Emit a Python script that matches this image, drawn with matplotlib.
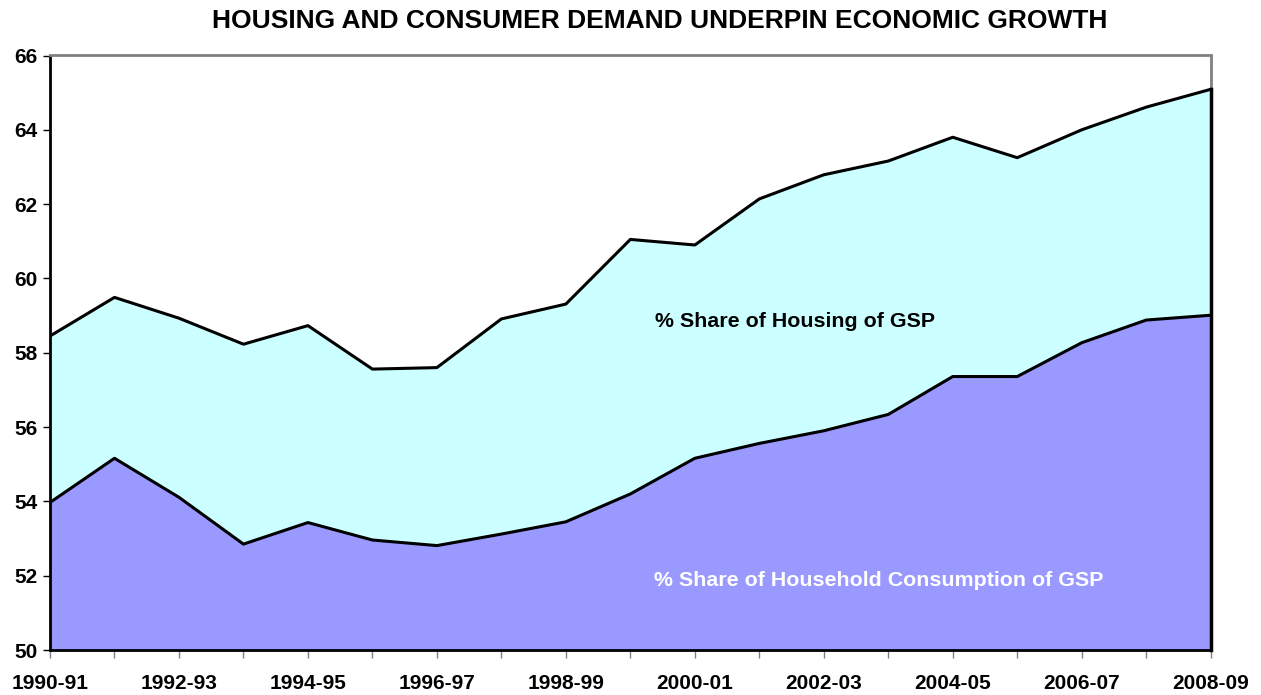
import matplotlib
matplotlib.use("Agg")
import matplotlib.pyplot as plt

years = ["1990-91", "1991-92", "1992-93", "1993-94", "1994-95", "1995-96",
         "1996-97", "1997-98", "1998-99", "1999-00", "2000-01", "2001-02",
         "2002-03", "2003-04", "2004-05", "2005-06", "2006-07", "2007-08",
         "2008-09"]
housing_share = [58.45, 59.49, 58.93, 58.23, 58.73, 57.56, 57.60, 58.91, 59.31,
                 61.05, 60.90, 62.14, 62.79, 63.16, 63.80, 63.25, 64.00, 64.61,
                 65.09]
consumption_share = [53.97, 55.16, 54.11, 52.85, 53.43, 52.96, 52.81, 53.12,
                     53.45, 54.20, 55.16, 55.56, 55.90, 56.34, 57.36, 57.36,
                     58.27, 58.88, 59.01]
y_ticks = [50, 52, 54, 56, 58, 60, 62, 64, 66]

plt.rcParams['font.family'] = ['Liberation Sans', 'DejaVu Sans']
plt.rcParams['font.weight'] = 'bold'

W, H = 1261, 695
fig = plt.figure(figsize=(W / 100, H / 100), dpi=100)
ax = fig.add_axes([50 / W, (H - 650) / H, 1160.7 / W, (650 - 55.5) / H])

x = list(range(len(years)))
ax.fill_between(x, 50, housing_share, color="#CCFFFF", zorder=1)
ax.fill_between(x, 50, consumption_share, color="#9999FF", zorder=2)
ax.plot(x, housing_share, color="black", lw=2.2, zorder=3)
ax.plot(x, consumption_share, color="black", lw=2.2, zorder=3)

ax.set_xlim(0, len(years) - 1)
ax.set_ylim(50, 66)
ax.set_yticks(y_ticks)
ax.set_yticklabels([str(v) for v in y_ticks], fontsize=15, fontweight='bold')
ax.set_xticks(x)
ax.set_xticklabels([y if i % 2 == 0 else "" for i, y in enumerate(years)],
                   fontsize=15, fontweight='bold')
ax.tick_params(axis='x', direction='out', length=6, width=1, color='#808080', pad=11)
ax.tick_params(axis='y', direction='out', length=5, width=1, color='black', pad=4)

for s in ['top', 'right']:
    ax.spines[s].set_color('#808080')
    ax.spines[s].set_linewidth(2)
for s in ['left', 'bottom']:
    ax.spines[s].set_color('black')
    ax.spines[s].set_linewidth(2)
ax.spines['right'].set_zorder(0.5)
# right edge line of the filled area
ax.plot([x[-1], x[-1]], [50, housing_share[-1]], color='black', lw=2.5, zorder=4, clip_on=False)

ax.text(11.55, 58.84, "% Share of Housing of GSP", fontsize=15.4, fontweight='bold',
        color='black', ha='center', va='center', zorder=5)
ax.text(12.85, 51.87, "% Share of Household Consumption of GSP", fontsize=15.4,
        fontweight='bold', color='white', ha='center', va='center', zorder=5)

fig.text(659.5 / W, 1 - 21 / H, "HOUSING AND CONSUMER DEMAND UNDERPIN ECONOMIC GROWTH",
         fontsize=19, fontweight='bold', ha='center', va='center')

fig.savefig("out.png", dpi=100)
